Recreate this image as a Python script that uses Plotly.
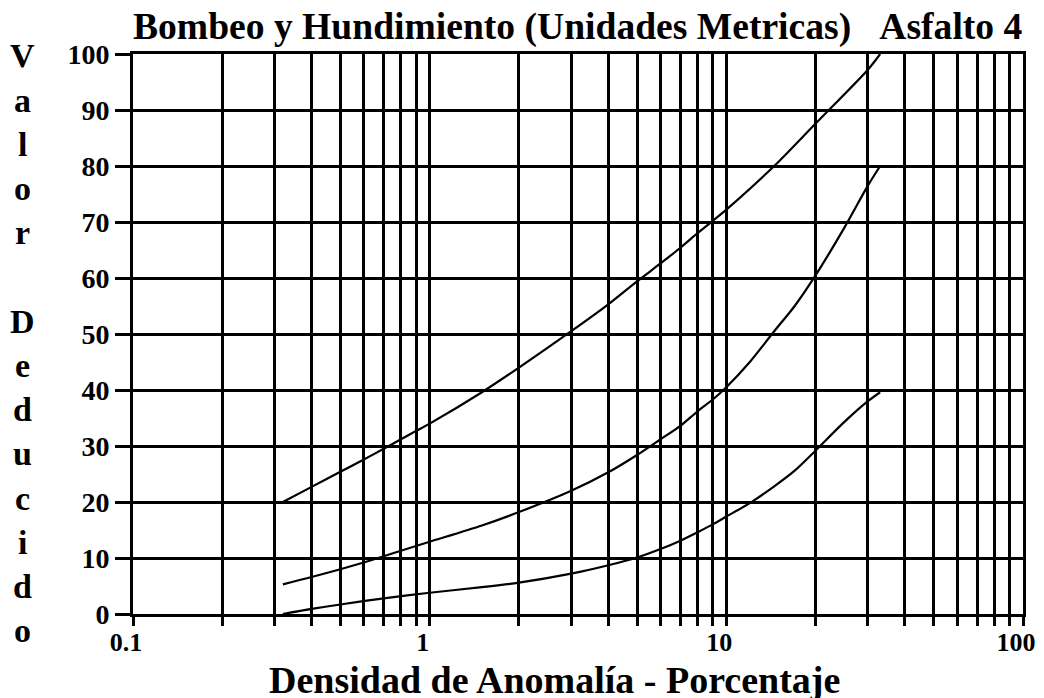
import plotly.graph_objects as go

# Densidad de anomalia (%) vs valor deducido
x_alto = [0.32, 0.4, 0.5, 0.6, 0.7, 0.8, 0.9, 1, 1.5, 2, 3, 4, 5, 6, 7, 8, 9, 10, 14.5, 20, 30, 33]
y_alto = [20, 22.7, 25.4, 27.6, 29.5, 31.2, 32.7, 34, 39.6, 44, 50.5, 55.3, 59.4, 62.6, 65.4, 68, 70.2, 72.2, 80, 87.6, 97.2, 100]

x_medio = [0.32, 0.4, 0.5, 0.6, 0.7, 0.8, 1, 1.5, 2, 3, 4, 5, 6, 7, 8, 9, 10, 12, 14.5, 17, 20, 25, 30, 33]
y_medio = [5.3, 6.6, 8, 9.2, 10.3, 11.3, 12.9, 15.8, 18.2, 22, 25.3, 28.4, 31.2, 33.6, 36.2, 38.3, 40.5, 45, 50.5, 55, 60.5, 69, 76.5, 80]

x_bajo = [0.32, 0.4, 0.5, 0.7, 1, 1.5, 2, 3, 4, 5, 6, 7, 8, 9, 10, 12, 14.5, 17, 20, 25, 30, 33]
y_bajo = [0, 0.9, 1.7, 2.8, 3.8, 4.8, 5.6, 7.2, 8.7, 10.1, 11.6, 13.1, 14.6, 16, 17.4, 19.8, 22.8, 25.6, 29.2, 34.3, 38, 39.6]

x_ticks = [m * 10 ** e for e in (-1, 0, 1) for m in range(1, 10)] + [100]
x_labels = {0.1: "0.1", 1: "1", 10: "10", 100: "100"}
y_ticks = list(range(0, 101, 10))

titulo = "Bombeo y Hundimiento (Unidades Metricas)\u00a0\u00a0\u00a0Asfalto 4"
titulo_x = "Densidad de Anomalía - Porcentaje"
titulo_y = "Valor Deducido"

FONT = "Liberation Serif"

fig = go.Figure()
for xs, ys in [(x_alto, y_alto), (x_medio, y_medio), (x_bajo, y_bajo)]:
    fig.add_trace(go.Scatter(
        x=xs, y=ys, mode="lines",
        line=dict(color="black", width=2.2, shape="spline", smoothing=0.8),
        showlegend=False, hoverinfo="skip",
    ))

axis_common = dict(
    showgrid=True, gridcolor="black", gridwidth=3,
    showline=True, linecolor="black", linewidth=3, mirror=True,
    ticks="outside", tickcolor="black", tickwidth=3,
    zeroline=False, automargin=False,
)

fig.update_xaxes(
    type="log", range=[-1, 2],
    tickmode="array", tickvals=x_ticks,
    ticktext=[x_labels.get(round(v, 6), "") for v in x_ticks],
    ticklen=9, ticklabelstandoff=-6, ticklabelshift=-7,
    tickfont=dict(family=FONT, size=26, color="black", weight="bold"),
    **axis_common,
)
fig.update_yaxes(
    range=[0, 100],
    tickmode="array", tickvals=y_ticks,
    ticktext=[str(v) for v in y_ticks],
    ticklen=15,
    tickfont=dict(family=FONT, size=28, color="black", weight="bold"),
    **axis_common,
)

anotaciones = [
    dict(text=titulo, xref="paper", yref="paper", x=0.5, y=1, xanchor="center",
         yanchor="bottom", yshift=4, showarrow=False,
         font=dict(family=FONT, size=37.6, color="black", weight="bold")),
    dict(text=titulo_x, xref="paper", yref="paper", x=0.474, y=0, xanchor="center",
         yanchor="middle", yshift=-66, showarrow=False,
         font=dict(family=FONT, size=38, color="black", weight="bold")),
]
# etiqueta vertical, una letra por linea
for i, letra in enumerate(titulo_y):
    if letra == " ":
        continue
    anotaciones.append(dict(
        text=letra, xref="paper", yref="paper", x=-0.1236, y=(614 - 56 - 44.2 * i) / 560,
        xanchor="center", yanchor="middle", showarrow=False,
        font=dict(family=FONT, size=34, color="black", weight="bold"),
    ))

# la pagina deja 8 px de margen arriba y a la izquierda
fig.update_layout(
    width=1036, height=690,
    margin=dict(l=125, r=21, t=46, b=84),
    paper_bgcolor="white", plot_bgcolor="white",
    annotations=anotaciones,
)

fig.write_html("out.html")
